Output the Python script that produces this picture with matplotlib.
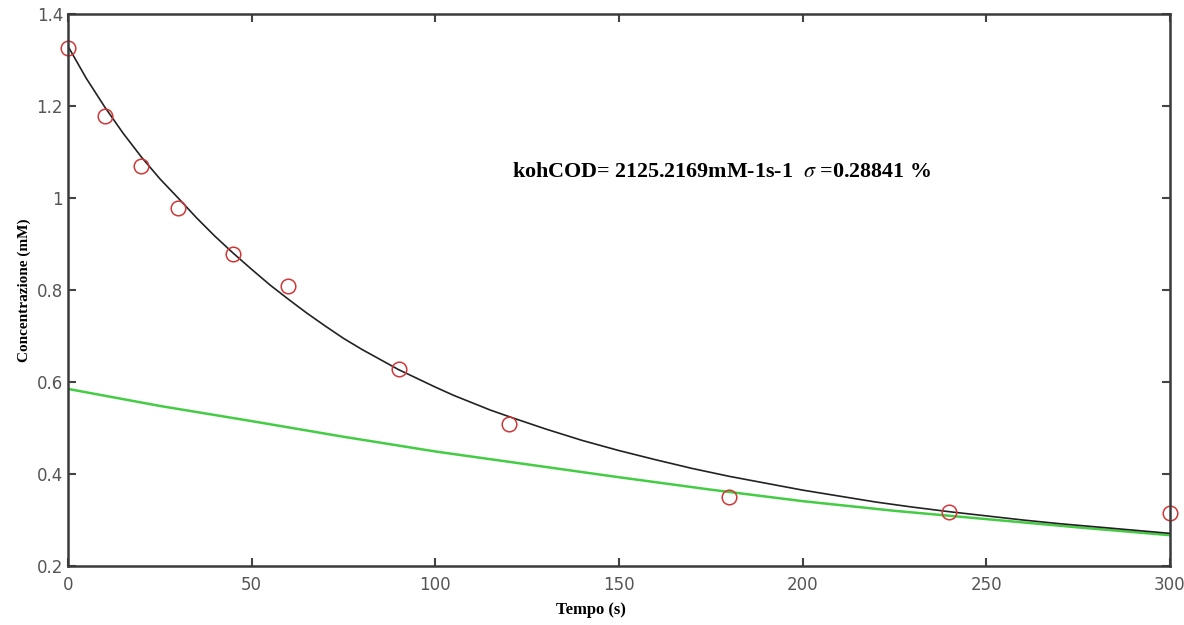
import matplotlib.pyplot as plt
import matplotlib.ticker as mticker

plt.rcParams['mathtext.fontset'] = 'stix'

# measured concentrations
t_data = [0, 10, 20, 30, 45, 60, 90, 120, 180, 240, 300]
c_data = [1.326, 1.178, 1.07, 0.978, 0.878, 0.809, 0.628, 0.509, 0.35, 0.317, 0.315]

# fitted curve (black)
t_fit = [0, 5, 10, 15, 20, 25, 30, 35, 40, 45, 50, 55, 60, 65, 70, 75, 80, 85, 90,
         95, 100, 105, 110, 115, 120, 130, 140, 150, 160, 170, 180, 190, 200, 210,
         220, 230, 240, 250, 260, 270, 280, 290, 300]
c_fit = [1.330, 1.260, 1.198, 1.141, 1.089, 1.042, 1.000, 0.957, 0.917, 0.880, 0.845,
         0.811, 0.780, 0.750, 0.722, 0.695, 0.671, 0.649, 0.627, 0.608, 0.589, 0.571,
         0.555, 0.539, 0.525, 0.498, 0.473, 0.451, 0.431, 0.412, 0.395, 0.380, 0.365,
         0.352, 0.339, 0.328, 0.318, 0.309, 0.300, 0.292, 0.285, 0.278, 0.271]

# second curve (green)
t_green = [0, 25, 50, 75, 100, 125, 150, 175, 200, 225, 250, 275, 300]
c_green = [0.585, 0.548, 0.515, 0.481, 0.449, 0.421, 0.393, 0.366, 0.341, 0.320, 0.302, 0.284, 0.267]

x_ticks = [0, 50, 100, 150, 200, 250, 300]
y_ticks = [0.2, 0.4, 0.6, 0.8, 1.0, 1.2, 1.4]

fig = plt.figure(figsize=(11.84, 6.25), dpi=100)
ax = fig.add_axes([0.0574, 0.0944, 0.9306, 0.8832])

ax.plot(t_green, c_green, color='#44cc44', lw=1.8)
ax.plot(t_fit, c_fit, color='#222222', lw=1.2)
ax.plot(t_data, c_data, 'o', mfc='none', mec='#d03838', ms=10.5, mew=1.1, clip_on=False)

ax.set_xlim(0, 300)
ax.set_ylim(0.2, 1.4)
ax.set_xticks(x_ticks)
ax.set_yticks(y_ticks)
ax.yaxis.set_major_formatter(mticker.FormatStrFormatter('%g'))
ax.tick_params(direction='in', top=True, right=True, length=6, width=1.5,
               colors='#444444', labelsize=12, labelcolor='#555555')
ax.tick_params(axis='x', pad=7)
for sp in ax.spines.values():
    sp.set_linewidth(1.8)
    sp.set_color('#3a3a3a')

serif = 'Liberation Serif'
ax.set_xlabel('Tempo (s)', fontfamily=serif, fontweight='bold', fontsize=12)
ax.xaxis.set_label_coords(0.475, -0.066)
ax.set_ylabel('Concentrazione (mM)', fontfamily=serif, fontweight='bold', fontsize=11, labelpad=4)
ax.text(121, 1.056, r'kohCOD= 2125.2169mM-1s-1  $\sigma$ =0.28841 %', fontfamily=serif,
        fontweight='bold', fontsize=15.8, va='center', ha='left')

fig.savefig('out.png', dpi=100)
